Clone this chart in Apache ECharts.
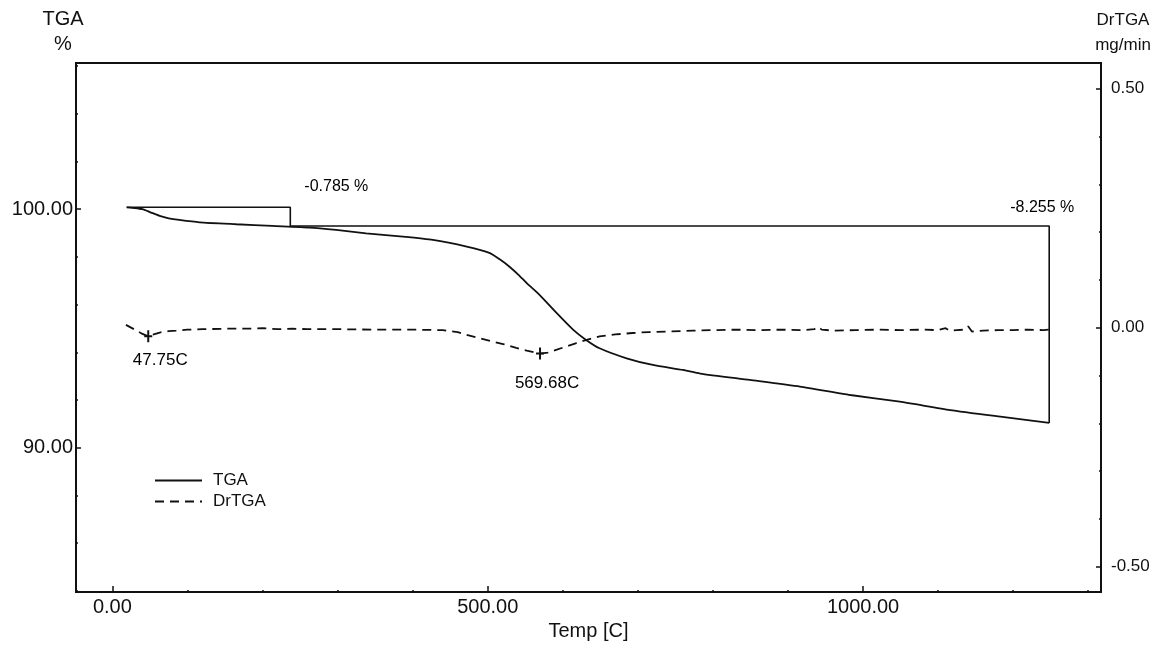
<!DOCTYPE html>
<html><head><meta charset="utf-8">
<script src="https://cdn.jsdelivr.net/npm/echarts@6/dist/echarts.min.js"></script>
<style>html,body{margin:0;padding:0;background:#fff}#c{width:1162px;height:646px}</style>
</head><body><div id="c"></div>
<script>
// ---- data ----
const tgaTemp = [19, 30, 40, 50, 63, 75, 89, 116, 165, 213, 263, 298, 338, 383, 427, 472, 503, 516, 529, 541, 552, 569, 592, 614, 631, 649, 685, 720, 760, 783, 849, 916, 983, 1049, 1116, 1183, 1248];
const tgaValue = [100.08, 100.05, 100.0, 99.88, 99.72, 99.62, 99.55, 99.45, 99.37, 99.30, 99.23, 99.13, 98.99, 98.86, 98.71, 98.43, 98.16, 97.90, 97.59, 97.25, 96.90, 96.41, 95.64, 94.94, 94.52, 94.17, 93.75, 93.47, 93.26, 93.11, 92.84, 92.56, 92.21, 91.93, 91.58, 91.30, 91.04];

const drTemp = [18, 30, 40, 47.75, 55, 63, 75, 85, 100, 120, 152, 180, 200, 220, 240, 260, 300, 350, 400, 440, 460, 472, 490, 507, 522, 538, 552, 569.68, 580, 592, 605, 618, 633, 649, 670, 693, 715, 738, 773, 800, 830, 860, 890, 920, 935, 940, 945, 960, 990, 1020, 1050, 1080, 1100, 1110, 1115, 1125, 1135, 1140, 1145, 1160, 1180, 1200, 1220, 1240, 1248];
const drValue = [0.006, -0.004, -0.013, -0.018, -0.014, -0.010, -0.007, -0.006, -0.004, -0.003, -0.002, -0.002, -0.001, -0.003, -0.002, -0.003, -0.003, -0.004, -0.004, -0.005, -0.009, -0.015, -0.022, -0.029, -0.035, -0.042, -0.048, -0.054, -0.052, -0.046, -0.039, -0.032, -0.025, -0.018, -0.014, -0.011, -0.009, -0.008, -0.006, -0.005, -0.004, -0.005, -0.004, -0.005, -0.003, 0.002, -0.004, -0.006, -0.005, -0.004, -0.005, -0.004, -0.005, -0.001, -0.006, -0.005, -0.004, 0.003, -0.008, -0.006, -0.005, -0.005, -0.004, -0.005, -0.004];

const peakTemps = [47.75, 569.68];
const peakValues = [-0.018, -0.054];

const stepStartTemp = 19;
const stepBreakTemp = 237;
const stepEndTemp = 1248;
const stepLosses = [-0.785, -8.255];

const xMajorTicks = [0, 500, 1000];
const xMinorTicks = [100, 200, 300, 400, 600, 700, 800, 900, 1100, 1200, 1300];
const yLeftMajor = [90, 100];
const yLeftMinor = [84, 86, 88, 92, 94, 96, 98, 102, 104, 106];
const yRightMajor = [-0.5, 0, 0.5];
const yRightMinor = [-0.4, -0.3, -0.2, -0.1, 0.1, 0.2, 0.3, 0.4];

// ---- build ----
const FONT = '"Liberation Sans", Arial, sans-serif';
const INK = '#111';
const tgaData = tgaTemp.map((t, i) => [t, tgaValue[i]]);
const drData = drTemp.map((t, i) => [t, drValue[i]]);
const level0 = tgaValue[0];
const level1 = level0 + stepLosses[0];
const level2 = level1 + stepLosses[1];
const stepData = [[stepStartTemp, level0], [stepBreakTemp, level0], [stepBreakTemp, level1], [stepEndTemp, level1], [stepEndTemp, level2]];

const xRange = { min: -48.5, max: 1317 };
const yLRange = { min: 83.95, max: 106.13 };
const yRRange = { min: -0.553, max: 0.554 };

const fmt2 = v => Number(v).toFixed(2);

const chart = echarts.init(document.getElementById('c'), null, { renderer: 'canvas' });
chart.setOption({
  animation: false,
  backgroundColor: '#fff',
  textStyle: { fontFamily: FONT, color: INK },
  grid: { left: 76, right: 61, top: 63, bottom: 54, containLabel: false, outerBoundsMode: 'none',
          show: true, borderColor: INK, borderWidth: 2, backgroundColor: 'transparent' },
  legend: {
    data: ['TGA', 'DrTGA'], orient: 'vertical', left: 149, top: 467,
    itemWidth: 47, itemHeight: 12, itemGap: 4,
    itemStyle: { opacity: 0 },
    textStyle: { fontSize: 17, color: INK, fontFamily: FONT, padding: [0, 0, 0, 6] }
  },
  xAxis: [
    { type: 'value', min: xRange.min, max: xRange.max, position: 'bottom',
      name: 'Temp [C]', nameLocation: 'middle', nameGap: 28,
      nameTextStyle: { fontSize: 20, color: INK, fontFamily: FONT },
      axisLine: { show: true, onZero: false, lineStyle: { color: INK, width: 2 } },
      axisTick: { show: true, inside: true, length: 6, customValues: xMajorTicks, lineStyle: { color: INK, width: 1.5 } },
      axisLabel: { show: true, customValues: xMajorTicks, formatter: fmt2, fontSize: 20, color: INK, margin: 5, fontFamily: FONT },
      splitLine: { show: false } },
    { type: 'value', min: xRange.min, max: xRange.max, position: 'bottom',
      axisLine: { show: false, onZero: false },
      axisTick: { show: true, inside: true, length: 2, customValues: xMinorTicks, lineStyle: { color: INK, width: 1.5 } },
      axisLabel: { show: false }, splitLine: { show: false } }
  ],
  yAxis: [
    { type: 'value', min: yLRange.min, max: yLRange.max, position: 'left',
      name: 'TGA\n%', nameLocation: 'end', nameGap: 6,
      nameTextStyle: { fontSize: 20, lineHeight: 25, color: INK, fontFamily: FONT, align: 'center', padding: [0, 26, 0, 0] },
      axisLine: { show: true, onZero: false, lineStyle: { color: INK, width: 2 } },
      axisTick: { show: true, inside: true, length: 5, customValues: yLeftMajor, lineStyle: { color: INK, width: 1.5 } },
      axisLabel: { show: true, customValues: yLeftMajor, formatter: fmt2, fontSize: 20, color: INK, margin: 3, fontFamily: FONT },
      splitLine: { show: false } },
    { type: 'value', min: yRRange.min, max: yRRange.max, position: 'right',
      name: 'DrTGA\nmg/min', nameLocation: 'end', nameGap: 5,
      nameTextStyle: { fontSize: 17, lineHeight: 25, color: INK, fontFamily: FONT, align: 'center', padding: [0, 0, 0, 44] },
      axisLine: { show: true, onZero: false, lineStyle: { color: INK, width: 2 } },
      axisTick: { show: true, inside: true, length: 5, customValues: yRightMajor, lineStyle: { color: INK, width: 1.5 } },
      axisLabel: { show: true, customValues: yRightMajor, formatter: fmt2, fontSize: 17, color: INK, margin: 10, fontFamily: FONT },
      splitLine: { show: false } },
    { type: 'value', min: yLRange.min, max: yLRange.max, position: 'left',
      axisLine: { show: false, onZero: false },
      axisTick: { show: true, inside: true, length: 2, customValues: yLeftMinor, lineStyle: { color: INK, width: 1.5 } },
      axisLabel: { show: false }, splitLine: { show: false } },
    { type: 'value', min: yRRange.min, max: yRRange.max, position: 'right',
      axisLine: { show: false, onZero: false },
      axisTick: { show: true, inside: true, length: 2, customValues: yRightMinor, lineStyle: { color: INK, width: 1.5 } },
      axisLabel: { show: false }, splitLine: { show: false } }
  ],
  series: [
    { name: 'TGA', type: 'line', xAxisIndex: 0, yAxisIndex: 0, data: tgaData,
      showSymbol: false, symbol: 'none', smooth: 0.2,
      lineStyle: { color: INK, width: 1.8, type: 'solid' }, itemStyle: { color: INK } },
    { name: 'DrTGA', type: 'line', xAxisIndex: 0, yAxisIndex: 1, data: drData,
      showSymbol: false, symbol: 'none',
      lineStyle: { color: INK, width: 1.8, type: [9, 6] }, itemStyle: { color: INK } },
    { name: 'steps', type: 'line', xAxisIndex: 0, yAxisIndex: 0, data: stepData,
      showSymbol: false, symbol: 'none', silent: true,
      lineStyle: { color: INK, width: 1.6 } },
    { name: 'stepLabels', type: 'scatter', xAxisIndex: 0, yAxisIndex: 0, symbolSize: 0, silent: true,
      itemStyle: { color: INK, opacity: 1 },
      data: [
        { value: [stepBreakTemp, level0], label: { position: [14, -21] } },
        { value: [stepEndTemp, level1], label: { position: [-39, -18] } }
      ],
      label: { show: true, align: 'left', verticalAlign: 'middle', fontSize: 16, color: '#000', fontFamily: FONT,
        formatter: p => stepLosses[p.dataIndex].toFixed(3) + ' %' } },
    { name: 'peaks', type: 'scatter', xAxisIndex: 0, yAxisIndex: 1, silent: true,
      symbol: 'path://M3,0 H5 V5 H8 V7 H5 V12 H3 V7 H0 V5 H3 Z', symbolSize: [8, 12],
      itemStyle: { color: INK, opacity: 1 },
      data: peakTemps.map((t, i) => ({ value: [t, peakValues[i]],
        label: { offset: i === 0 ? [12, 4] : [7, 10] } })),
      label: { show: true, position: 'bottom', distance: 5, fontSize: 17, color: '#000', fontFamily: FONT,
        formatter: p => p.value[0].toFixed(2) + 'C' } }
  ]
});
</script>
</body></html>
